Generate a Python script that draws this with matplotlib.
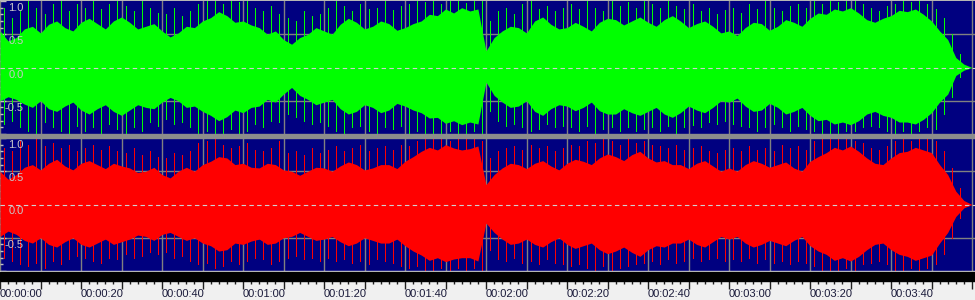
import numpy as np
import matplotlib.pyplot as plt
from matplotlib import transforms
from matplotlib.patches import Rectangle

# body envelope of each channel, one value every 2 s (0..240 s)
body_sec = list(range(0, 241, 2))
left_top = [0.55, 0.4, 0.45, 0.58, 0.62, 0.52, 0.65, 0.7, 0.6, 0.55,
            0.68, 0.74, 0.66, 0.58, 0.7, 0.76, 0.68, 0.58, 0.62, 0.66,
            0.55, 0.46, 0.52, 0.62, 0.6, 0.7, 0.75, 0.84, 0.78, 0.68,
            0.7, 0.64, 0.6, 0.5, 0.55, 0.42, 0.35, 0.45, 0.5, 0.6,
            0.55, 0.5, 0.65, 0.74, 0.68, 0.58, 0.62, 0.7, 0.66, 0.56,
            0.6, 0.66, 0.7, 0.8, 0.78, 0.88, 0.82, 0.9, 0.85, 0.88,
            0.25, 0.45, 0.55, 0.62, 0.6, 0.52, 0.7, 0.76, 0.65, 0.58,
            0.6, 0.68, 0.62, 0.55, 0.68, 0.74, 0.72, 0.64, 0.7, 0.76,
            0.68, 0.62, 0.72, 0.78, 0.7, 0.6, 0.66, 0.7, 0.62, 0.52,
            0.55, 0.48, 0.6, 0.68, 0.66, 0.56, 0.62, 0.72, 0.68, 0.62,
            0.74, 0.82, 0.8, 0.88, 0.85, 0.9, 0.82, 0.72, 0.68, 0.74,
            0.78, 0.86, 0.84, 0.88, 0.8, 0.7, 0.55, 0.42, 0.15, 0.05,
            0.0]
left_bot = [0.5, 0.44, 0.48, 0.55, 0.6, 0.5, 0.62, 0.66, 0.58, 0.52,
            0.64, 0.7, 0.62, 0.56, 0.66, 0.72, 0.64, 0.56, 0.6, 0.62,
            0.52, 0.45, 0.5, 0.6, 0.58, 0.66, 0.72, 0.8, 0.74, 0.64,
            0.68, 0.6, 0.58, 0.48, 0.52, 0.4, 0.3, 0.42, 0.48, 0.56,
            0.52, 0.48, 0.62, 0.7, 0.66, 0.56, 0.6, 0.68, 0.64, 0.54,
            0.58, 0.64, 0.68, 0.76, 0.75, 0.84, 0.8, 0.86, 0.82, 0.85,
            0.22, 0.42, 0.52, 0.6, 0.58, 0.5, 0.66, 0.72, 0.62, 0.56,
            0.58, 0.65, 0.6, 0.52, 0.65, 0.7, 0.7, 0.62, 0.68, 0.72,
            0.66, 0.6, 0.7, 0.75, 0.68, 0.58, 0.64, 0.68, 0.6, 0.5,
            0.52, 0.46, 0.58, 0.66, 0.64, 0.54, 0.6, 0.7, 0.66, 0.6,
            0.72, 0.8, 0.78, 0.85, 0.82, 0.86, 0.8, 0.7, 0.66, 0.72,
            0.75, 0.82, 0.82, 0.85, 0.78, 0.68, 0.52, 0.4, 0.12, 0.04,
            0.0]
right_top = [0.5, 0.38, 0.45, 0.56, 0.6, 0.52, 0.62, 0.68, 0.58, 0.52,
             0.62, 0.66, 0.6, 0.54, 0.62, 0.58, 0.55, 0.48, 0.5, 0.56,
             0.45, 0.4, 0.5, 0.56, 0.5, 0.6, 0.65, 0.72, 0.7, 0.6,
             0.62, 0.56, 0.55, 0.62, 0.6, 0.52, 0.5, 0.44, 0.5, 0.56,
             0.55, 0.5, 0.58, 0.64, 0.6, 0.52, 0.55, 0.6, 0.6, 0.54,
             0.65, 0.72, 0.8, 0.86, 0.82, 0.9, 0.85, 0.82, 0.84, 0.88,
             0.3, 0.45, 0.55, 0.62, 0.6, 0.54, 0.62, 0.66, 0.58, 0.52,
             0.62, 0.68, 0.65, 0.6, 0.7, 0.76, 0.72, 0.66, 0.75, 0.8,
             0.7, 0.64, 0.66, 0.6, 0.6, 0.54, 0.62, 0.66, 0.58, 0.5,
             0.55, 0.5, 0.6, 0.66, 0.62, 0.56, 0.6, 0.64, 0.55, 0.5,
             0.65, 0.72, 0.78, 0.86, 0.82, 0.88, 0.8, 0.7, 0.62, 0.6,
             0.7, 0.78, 0.8, 0.86, 0.82, 0.78, 0.6, 0.45, 0.2, 0.06,
             0.0]
right_bot = [0.48, 0.4, 0.45, 0.54, 0.58, 0.5, 0.6, 0.64, 0.56, 0.5,
             0.6, 0.64, 0.58, 0.52, 0.6, 0.56, 0.52, 0.46, 0.48, 0.54,
             0.45, 0.42, 0.48, 0.54, 0.5, 0.58, 0.62, 0.7, 0.68, 0.58,
             0.6, 0.55, 0.52, 0.6, 0.58, 0.5, 0.48, 0.42, 0.48, 0.54,
             0.52, 0.48, 0.56, 0.62, 0.58, 0.5, 0.54, 0.58, 0.58, 0.52,
             0.62, 0.7, 0.76, 0.84, 0.8, 0.86, 0.82, 0.8, 0.8, 0.85,
             0.28, 0.42, 0.52, 0.6, 0.58, 0.52, 0.6, 0.64, 0.56, 0.5,
             0.6, 0.66, 0.62, 0.58, 0.68, 0.74, 0.7, 0.64, 0.72, 0.78,
             0.68, 0.62, 0.64, 0.58, 0.58, 0.52, 0.6, 0.64, 0.56, 0.48,
             0.52, 0.48, 0.58, 0.64, 0.6, 0.54, 0.58, 0.62, 0.54, 0.48,
             0.62, 0.7, 0.75, 0.84, 0.8, 0.85, 0.78, 0.68, 0.6, 0.58,
             0.68, 0.75, 0.78, 0.84, 0.8, 0.76, 0.58, 0.42, 0.18, 0.05,
             0.0]

# spike heights, one every 2 s (1..239 s)
peak_sec = list(range(1, 240, 2))
left_peak_top = [0.9, 0.75, 0.85, 1.0, 0.9, 0.8, 0.95, 1.0, 0.85, 0.95,
                 0.9, 1.0, 0.88, 0.95, 1.0, 0.92, 0.85, 1.0, 0.9, 0.82,
                 0.8, 0.9, 0.78, 0.85, 0.95, 1.0, 1.0, 0.95, 1.0, 0.98,
                 1.0, 0.9, 0.85, 0.92, 0.8, 0.75, 0.7, 0.85, 0.78, 0.8,
                 0.9, 1.0, 0.92, 0.85, 0.95, 0.88, 0.9, 1.0, 0.86, 0.92,
                 0.95, 1.0, 0.98, 1.0, 0.96, 1.0, 1.0, 0.97, 1.0, 1.0,
                 0.7, 0.85, 0.9, 0.8, 0.95, 1.0, 0.88, 0.92, 0.85, 0.9,
                 0.95, 0.88, 1.0, 0.9, 0.85, 1.0, 0.92, 0.98, 0.9, 1.0,
                 0.95, 0.9, 1.0, 0.92, 0.88, 0.95, 0.85, 0.9, 0.8, 0.86,
                 0.9, 0.82, 0.95, 0.88, 1.0, 0.9, 0.85, 0.92, 0.95, 0.9,
                 1.0, 0.96, 1.0, 0.98, 1.0, 1.0, 0.95, 0.9, 0.85, 0.92,
                 0.95, 1.0, 0.98, 1.0, 0.95, 0.88, 0.75, 0.5, 0.2, 0.0]
left_peak_bot = [0.85, 0.8, 0.9, 0.95, 1.0, 0.82, 0.9, 0.95, 1.0, 0.88,
                 0.95, 0.9, 1.0, 0.85, 0.92, 1.0, 0.9, 0.95, 0.82, 0.88,
                 0.78, 0.85, 0.82, 0.9, 1.0, 0.95, 0.98, 1.0, 0.92, 1.0,
                 0.95, 0.85, 0.9, 0.8, 0.82, 0.7, 0.75, 0.8, 0.85, 0.82,
                 0.88, 0.95, 1.0, 0.9, 0.88, 0.95, 1.0, 0.9, 0.92, 0.88,
                 1.0, 0.95, 1.0, 0.98, 1.0, 0.95, 1.0, 1.0, 0.96, 0.98,
                 0.65, 0.8, 0.88, 0.85, 0.9, 0.95, 0.92, 0.85, 0.9, 0.88,
                 0.9, 0.95, 0.88, 1.0, 0.92, 0.9, 0.96, 0.9, 0.95, 0.92,
                 0.9, 0.95, 0.88, 0.98, 0.9, 0.86, 0.9, 0.82, 0.85, 0.8,
                 0.85, 0.88, 0.9, 0.95, 0.9, 0.85, 0.9, 0.95, 0.88, 0.92,
                 0.95, 1.0, 0.98, 1.0, 0.96, 0.95, 0.9, 0.88, 0.9, 0.95,
                 1.0, 0.95, 1.0, 0.96, 0.9, 0.92, 0.7, 0.45, 0.15, 0.0]
right_peak_top = [0.85, 0.8, 0.95, 0.9, 1.0, 0.88, 0.92, 0.85, 0.9, 0.8,
                  0.85, 0.9, 0.82, 0.88, 0.8, 0.78, 0.85, 0.75, 0.8, 0.72,
                  0.7, 0.78, 0.75, 0.8, 0.92, 0.95, 0.98, 0.9, 0.85, 0.88,
                  0.92, 0.82, 0.8, 0.85, 0.95, 0.78, 0.8, 0.75, 0.85, 0.78,
                  0.82, 0.88, 0.8, 0.85, 0.9, 0.8, 0.85, 0.88, 0.82, 0.9,
                  0.88, 0.95, 1.0, 0.98, 1.0, 0.96, 1.0, 0.98, 1.0, 0.95,
                  0.7, 0.8, 0.85, 0.88, 0.82, 0.9, 0.85, 0.88, 0.8, 0.85,
                  0.9, 0.88, 0.95, 0.92, 0.98, 0.95, 0.9, 1.0, 0.92, 0.95,
                  0.9, 0.88, 0.85, 0.9, 0.82, 0.85, 0.88, 0.8, 0.78, 0.82,
                  0.85, 0.8, 0.88, 0.82, 0.85, 0.8, 0.9, 0.85, 0.88, 0.82,
                  0.95, 1.0, 1.0, 0.98, 1.0, 0.96, 0.92, 0.85, 0.82, 0.88,
                  0.95, 1.0, 0.96, 1.0, 0.98, 0.95, 0.8, 0.55, 0.25, 0.0]
right_peak_bot = [0.8, 0.85, 0.9, 0.92, 0.88, 0.95, 0.85, 0.9, 0.82, 0.78,
                  0.8, 0.85, 0.88, 0.8, 0.82, 0.75, 0.8, 0.78, 0.72, 0.75,
                  0.72, 0.8, 0.78, 0.85, 0.9, 0.88, 0.95, 0.92, 0.85, 0.9,
                  0.85, 0.8, 0.82, 0.9, 0.85, 0.8, 0.78, 0.82, 0.8, 0.85,
                  0.8, 0.85, 0.82, 0.88, 0.85, 0.9, 0.82, 0.85, 0.88, 0.92,
                  0.95, 0.92, 0.98, 1.0, 0.95, 1.0, 0.96, 0.98, 0.95, 1.0,
                  0.68, 0.82, 0.85, 0.8, 0.88, 0.85, 0.9, 0.82, 0.88, 0.9,
                  0.92, 0.9, 0.95, 0.98, 0.92, 1.0, 0.95, 0.92, 0.9, 0.88,
                  0.85, 0.9, 0.82, 0.88, 0.85, 0.8, 0.85, 0.82, 0.8, 0.85,
                  0.82, 0.85, 0.8, 0.88, 0.82, 0.88, 0.85, 0.9, 0.85, 0.88,
                  0.92, 0.98, 1.0, 1.0, 0.96, 1.0, 0.9, 0.88, 0.85, 0.9,
                  0.98, 1.0, 0.95, 1.0, 0.96, 0.9, 0.75, 0.5, 0.2, 0.0]

level_values = [1.0, 0.5, 0.0, -0.5]
level_labels = ['1.0', '0.5', '0.0', '-0.5']
label_sec = list(range(0, 221, 20))
time_labels = ['00:00:00', '00:00:20', '00:00:40', '00:01:00', '00:01:20', '00:01:40',
               '00:02:00', '00:02:20', '00:02:40', '00:03:00', '00:03:20', '00:03:40']

W, H = 975, 300
px_per_sec = 4.05
x_max = W / px_per_sec
navy = '#000080'

fig = plt.figure(figsize=(W / 100, H / 100), dpi=100)
fig.patch.set_facecolor('#b4b4b4')
plt.rcParams['font.family'] = ['Liberation Sans', 'DejaVu Sans']


def px_rect(y0, y1):
    return [0, (H - y1) / H, 1, (y1 - y0) / H]


def channel(rect, ylim, top, bot, ptop, pbot, color):
    ax = fig.add_axes(rect)
    ax.set_facecolor(navy)
    ax.set_xlim(0, x_max)
    ax.set_ylim(*ylim)
    for s in ax.spines.values():
        s.set_visible(False)
    for g in range(0, int(x_max) + 1, 10):
        ax.axvline(g, color='#808080', lw=1, zorder=1)
    for v in (0.5, -0.5):
        ax.axhline(v, color='#808080', lw=1, zorder=1)
    ax.fill_between(body_sec, [-b for b in bot], top, color=color, lw=0,
                    antialiased=False, zorder=2)
    ax.vlines(peak_sec, [-b for b in pbot], ptop, color=color, lw=0.72,
              antialiased=False, zorder=2)
    ax.axhline(0, color='#d0d0d0', lw=0.8, ls=(0, (4, 3)), zorder=3)
    ax.set_xticks([])
    ax.set_yticks(np.arange(-1.0, 1.01, 0.5))
    ax.set_yticks(np.arange(-1.0, 1.01, 0.1), minor=True)
    ax.tick_params(axis='y', which='both', direction='in', colors='#c0c0c0',
                   labelleft=False)
    ax.tick_params(axis='y', which='major', length=4, width=1)
    ax.tick_params(axis='y', which='minor', length=2, width=1)
    tr = transforms.offset_copy(ax.get_yaxis_transform(), fig=fig, x=0, y=-2, units='dots')
    for v, lab in zip(level_values, level_labels):
        ax.text(0.024, v, lab, transform=tr, ha='right', va='top',
                fontsize=8, color='#c8c8c8', zorder=4)
    return ax


channel(px_rect(1, 134), (-1.0, 0.985), left_top, left_bot,
        left_peak_top, left_peak_bot, '#00ff00')
channel(px_rect(138, 271), (-0.985, 0.971), right_top, right_bot,
        right_peak_top, right_peak_bot, '#ff0000')

# separators and the black strip above the ruler
fig.patches.append(Rectangle((0, (H - 138) / H), 1, 4 / H, transform=fig.transFigure,
                             color='#8c8c8c', zorder=5))
fig.patches.append(Rectangle((0, (H - 272) / H), 1, 1 / H, transform=fig.transFigure,
                             color='#e0e0e0', zorder=5))
fig.patches.append(Rectangle((0, (H - 281) / H), 1, 9 / H, transform=fig.transFigure,
                             color='black', zorder=5))

# time ruler
rul = fig.add_axes(px_rect(281, 300))
rul.set_facecolor('#f0f0f0')
rul.set_xlim(0, x_max)
rul.set_ylim(0, 1)
for s in rul.spines.values():
    s.set_visible(False)
rul.set_yticks([])
rul.set_xticks(range(0, int(x_max) + 1, 10))
rul.set_xticks(range(0, int(x_max) + 1, 2), minor=True)
rul.xaxis.set_ticks_position('top')
rul.tick_params(axis='x', which='both', direction='in', colors='#202020', labeltop=False)
rul.tick_params(axis='x', which='major', length=6, width=1)
rul.tick_params(axis='x', which='minor', length=2, width=1)
for s, lab in zip(label_sec, time_labels):
    rul.text(s, 0.15, lab, ha='left', va='baseline', fontsize=8, color='#1a1a3a')

fig.savefig('out.png', dpi=100, facecolor=fig.get_facecolor())
